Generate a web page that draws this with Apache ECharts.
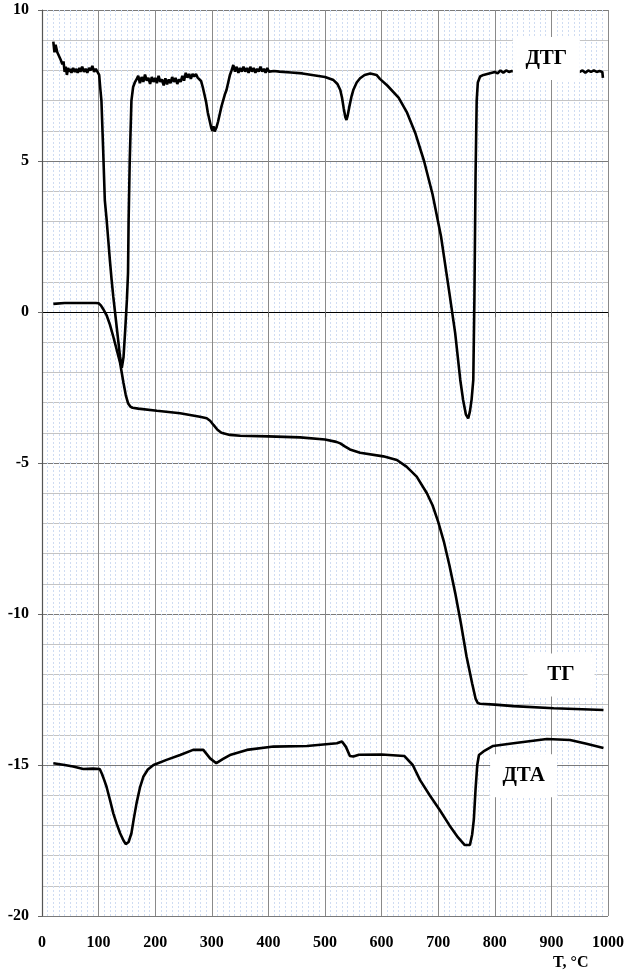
<!DOCTYPE html>
<html>
<head>
<meta charset="utf-8">
<script src="https://cdn.jsdelivr.net/npm/echarts@6/dist/echarts.min.js"></script>
<style>
  html, body { margin: 0; padding: 0; background: #fff; }
  #chart { width: 627px; height: 979px; }
</style>
</head>
<body>
<div id="chart"></div>
<script>
// Thermal analysis curves: temperature T (°C) against signal value
var xTicks = [0, 100, 200, 300, 400, 500, 600, 700, 800, 900, 1000];
var yTicks = [-20, -15, -10, -5, 0, 5, 10];

// ДТГ (derivative thermogravimetry)
var dtg = [
  [20, 8.95], [22, 8.6], [24, 8.85], [27, 8.6], [30, 8.55], [33, 8.35], [36, 8.2], [38, 8.3],
  [40, 7.95], [42, 8.12], [44, 7.85], [46, 8.08], [48, 7.95], [50, 8.05], [52, 7.92], [55, 8.08],
  [58, 7.95], [60, 8.05], [63, 7.92], [66, 8.08], [68, 7.95], [71, 8.12], [74, 7.95], [77, 8.05],
  [80, 7.92], [83, 8.08], [86, 8.0], [89, 8.15], [92, 7.95], [95, 8.05], [98, 7.95], [101, 7.85],
  [103, 7.4], [105, 7.0], [108, 5.4], [111, 3.7], [114, 3.1], [117, 2.4], [120, 1.7], [123, 1.06],
  [126, 0.5], [129, 0.0], [132, -0.5], [135, -1.0], [138, -1.5], [141, -1.85], [144, -1.5],
  [147, -0.6], [150, 0.4], [152, 1.3], [153, 3.0], [155, 5.0], [158, 7.0], [161, 7.45], [164, 7.6],
  [167, 7.7], [170, 7.82], [173, 7.58], [176, 7.78], [179, 7.62], [182, 7.86], [185, 7.66], [188, 7.75],
  [191, 7.55], [194, 7.78], [197, 7.62], [200, 7.75], [203, 7.58], [206, 7.82], [209, 7.62], [212, 7.7],
  [215, 7.5], [218, 7.74], [221, 7.54], [224, 7.7], [227, 7.58], [230, 7.78], [233, 7.62], [236, 7.75],
  [239, 7.55], [242, 7.7], [245, 7.62], [248, 7.82], [251, 7.66], [254, 7.92], [257, 7.76], [260, 7.88],
  [263, 7.72], [266, 7.88], [269, 7.8], [272, 7.88], [275, 7.76], [278, 7.8], [281, 7.65], [284, 7.45],
  [287, 7.2], [290, 6.95], [293, 6.6], [296, 6.35], [299, 6.1], [301, 6.0], [303, 6.15], [305, 5.98],
  [308, 6.1], [311, 6.3], [314, 6.55], [317, 6.8], [320, 7.0], [323, 7.2], [326, 7.35], [329, 7.6],
  [332, 7.85], [335, 8.0], [338, 8.18], [341, 7.96], [344, 8.12], [347, 7.92], [350, 8.08], [353, 7.96],
  [356, 8.12], [359, 7.96], [362, 8.08], [365, 7.92], [368, 8.12], [371, 7.96], [374, 8.08], [377, 7.92],
  [380, 8.05], [383, 7.96], [386, 8.12], [389, 7.96], [392, 8.05], [395, 7.92], [398, 8.08], [401, 7.96],
  [404, 8.0], [410, 7.98], [420, 7.96], [440, 7.93], [460, 7.9], [480, 7.84], [500, 7.78], [515, 7.68],
  [522, 7.55], [527, 7.35], [530, 7.1], [533, 6.75], [536, 6.45], [538, 6.36], [540, 6.5], [543, 6.8],
  [547, 7.15], [550, 7.35], [556, 7.6], [562, 7.74], [570, 7.85], [580, 7.9], [591, 7.85], [597, 7.72],
  [610, 7.5], [630, 7.1], [645, 6.6], [660, 5.9], [675, 5.0], [690, 3.9], [705, 2.5], [720, 0.6],
  [730, -0.7], [739, -2.25], [744, -2.91], [749, -3.4], [753, -3.52], [756, -3.3], [759, -2.9],
  [762, -2.25], [764, 0.5], [766, 4.5], [768, 7.0], [770, 7.6], [774, 7.8], [780, 7.85], [790, 7.9],
  [800, 7.95], [805, 7.9], [810, 8.0], [815, 7.92], [820, 8.0], [825, 7.95], [830, 7.98], [840, 7.95],
  [860, 7.96], [880, 7.95], [900, 7.96], [930, 7.95], [950, 7.95], [955, 8.0], [960, 7.92], [965, 8.0],
  [970, 7.95], [975, 8.0], [980, 7.95], [985, 7.98], [990, 7.95], [991, 7.75]
];

// ТГ (thermogravimetry)
var tg = [
  [20, 0.27], [40, 0.3], [60, 0.3], [80, 0.3], [95, 0.3], [100, 0.29], [104, 0.22], [108, 0.1],
  [114, -0.1], [120, -0.42], [126, -0.82], [132, -1.25], [138, -1.69], [144, -2.35], [148, -2.75],
  [152, -3.02], [156, -3.13], [160, -3.17], [170, -3.2], [203, -3.27], [244, -3.35], [279, -3.47],
  [291, -3.52], [297, -3.6], [303, -3.74], [310, -3.9], [317, -4.0], [332, -4.07], [350, -4.1],
  [400, -4.12], [456, -4.15], [500, -4.22], [520, -4.3], [527, -4.35], [535, -4.45], [544, -4.55],
  [562, -4.66], [603, -4.78], [627, -4.9], [644, -5.12], [662, -5.45], [680, -6.0], [690, -6.4],
  [700, -6.95], [710, -7.6], [720, -8.4], [730, -9.3], [740, -10.3], [750, -11.4], [760, -12.3],
  [766, -12.8], [770, -12.95], [774, -12.97], [800, -13.0], [833, -13.05], [904, -13.12], [992, -13.18]
];

// ДТА (differential thermal analysis)
var dta = [
  [20, -14.94], [40, -15.0], [55, -15.05], [73, -15.13], [90, -15.12], [102, -15.13], [106, -15.3],
  [110, -15.5], [114, -15.72], [120, -16.15], [126, -16.6], [132, -16.95], [138, -17.26], [144, -17.5],
  [148, -17.62], [150, -17.65], [153, -17.55], [158, -17.26], [162, -16.8], [167, -16.27], [173, -15.75],
  [179, -15.39], [187, -15.15], [197, -15.0], [220, -14.83], [244, -14.67], [267, -14.5], [285, -14.5],
  [297, -14.78], [308, -14.94], [320, -14.8], [332, -14.67], [362, -14.5], [409, -14.39], [468, -14.37],
  [521, -14.28], [530, -14.22], [537, -14.4], [544, -14.7], [550, -14.72], [560, -14.66], [600, -14.65],
  [640, -14.7], [655, -15.0], [668, -15.5], [685, -16.0], [703, -16.5], [720, -17.0], [735, -17.4],
  [747, -17.65], [756, -17.65], [760, -17.3], [763, -16.8], [766, -15.8], [769, -15.0], [772, -14.67],
  [780, -14.55], [797, -14.37], [833, -14.28], [892, -14.14], [933, -14.17], [962, -14.3], [992, -14.44]
];

// Curve captions and where they sit (data coordinates)
var captions = [
  { name: 'ДТГ', at: [891, 8.39] },
  { name: 'ТГ', at: [917, -12.02] },
  { name: 'ДТА', at: [851, -15.36] }
];

var FONT = '"Liberation Serif", "Times New Roman", serif';

function captionMark(c) {
  return {
    symbol: 'rect',
    symbolSize: [67, 43],
    itemStyle: { color: '#ffffff' },
    label: {
      show: true, position: 'inside', color: '#000',
      fontFamily: FONT, fontWeight: 'bold', fontSize: 21,
      formatter: c.name
    },
    data: [{ coord: c.at }],
    silent: true,
    animation: false
  };
}

function curve(name, data, cap) {
  return {
    name: name, type: 'line', data: data, showSymbol: false, symbol: 'none',
    lineStyle: { color: '#000', width: 2.6 }, z: 3,
    markPoint: captionMark(cap)
  };
}

var chart = echarts.init(document.getElementById('chart'), null, { renderer: 'canvas' });
chart.setOption({
  animation: false,
  backgroundColor: '#fff',
  grid: { left: 42, right: 19, top: 10, bottom: 63 },
  xAxis: {
    type: 'value', min: xTicks[0], max: xTicks[xTicks.length - 1], interval: 100,
    axisLine: { show: true, lineStyle: { color: '#000', width: 1.2 } },
    axisTick: { show: true, length: 5, lineStyle: { color: '#666' } },
    axisLabel: {
      color: '#000', fontFamily: FONT, fontWeight: 'bold', fontSize: 16, margin: 19,
      formatter: function (v) { return String(v); }
    },
    splitLine: { show: true, lineStyle: { color: '#8a8a8a', width: 1 } },
    minorTick: { show: false, splitNumber: 10 },
    minorSplitLine: { show: true, lineStyle: { color: '#cfdcf2', width: 1, type: [2, 2] } }
  },
  yAxis: {
    type: 'value', min: yTicks[0], max: yTicks[yTicks.length - 1], interval: 5,
    axisLine: { show: true, lineStyle: { color: '#555', width: 1.2 } },
    axisTick: { show: true, length: 4, lineStyle: { color: '#666' } },
    axisLabel: {
      color: '#000', fontFamily: FONT, fontWeight: 'bold', fontSize: 16, margin: 13,
      formatter: function (v) { return String(v); }
    },
    splitLine: { show: true, lineStyle: { color: '#7a7a7a', width: 1 } },
    minorTick: { show: false, splitNumber: 5 },
    minorSplitLine: { show: true, lineStyle: { color: '#c4c4c4', width: 1 } }
  },
  graphic: [{
    type: 'text', left: 553, top: 955,
    style: { text: 'T, °C', fill: '#000', font: 'bold 16px ' + FONT }
  }],
  series: [
    curve('ДТГ', dtg, captions[0]),
    curve('ТГ', tg, captions[1]),
    curve('ДТА', dta, captions[2])
  ]
});
</script>
</body>
</html>
